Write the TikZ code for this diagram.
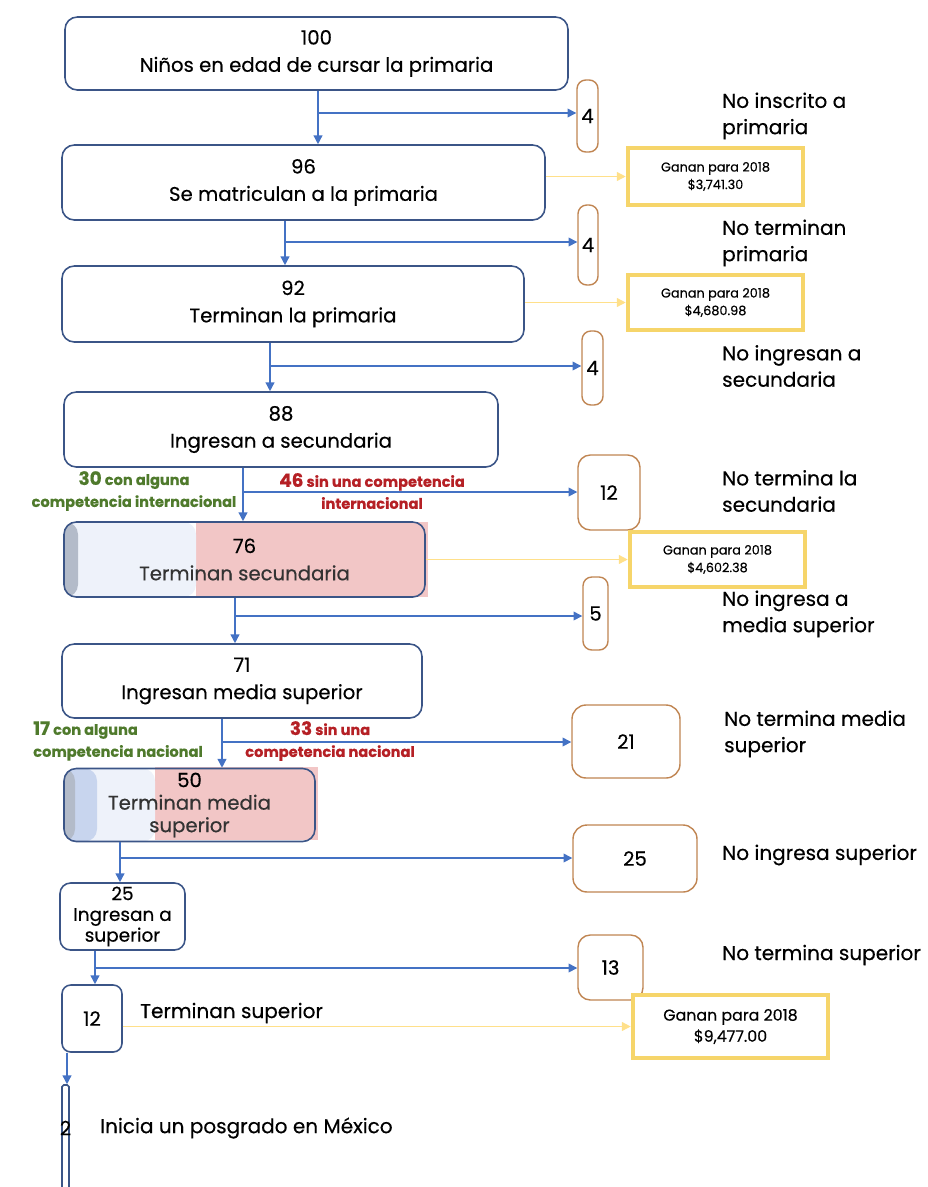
\documentclass[tikz,border=0pt]{standalone}
\usepackage{fontspec}
\setmainfont{Poppins}[RawFeature={embolden=0.4}]
\usepackage{tikz}
\usetikzlibrary{positioning,arrows.meta,calc}
\usepackage{xcolor}
\definecolor{stageblue}{HTML}{3B5587}
\definecolor{flowblue}{HTML}{4472C4}
\definecolor{dropbrown}{HTML}{C08552}
\definecolor{payyellow}{HTML}{F6D56A}
\definecolor{payline}{HTML}{FFE08A}
\definecolor{compgreen}{HTML}{4F7A2C}
\definecolor{compred}{HTML}{B52025}
\definecolor{pinkfill}{HTML}{F2C6C6}
\definecolor{paleblue}{HTML}{EEF2FA}
\definecolor{stripegrey}{HTML}{B3BBC9}
\definecolor{stripeblue}{HTML}{C8D5EE}
\newcommand{\pxu}{0.02cm}
\newcommand{\mainsize}{\fontsize{11.2}{15.5}\selectfont}
\newcommand{\sidesize}{\fontsize{11.4}{15}\selectfont}
\newcommand{\smallsize}{\fontsize{7.3}{10}\selectfont}
\newcommand{\compsize}{\fontsize{8.3}{12.5}\selectfont\bfseries}
\newcommand{\compnum}{\fontsize{10.5}{12.5}\selectfont\bfseries}

\begin{document}
\begin{tikzpicture}[x=\pxu, y=-\pxu,
    wh/.style 2 args={minimum width=#1*\pxu, minimum height=#2*\pxu},
    stage/.style={draw=stageblue, line width=0.9pt, rounded corners=7pt, fill=white, inner sep=0pt, align=center, font=\mainsize},
    dropbox/.style={draw=dropbrown, line width=0.8pt, rounded corners=5pt, fill=white, inner sep=0pt, font=\mainsize},
    paybox/.style={draw=payyellow, line width=2.6pt, fill=white, inner sep=0pt, align=center, font=\smallsize},
    flow/.style={draw=flowblue, line width=0.8pt, -{Triangle[length=5pt,width=5pt]}},
    payflow/.style={draw=payline, line width=0.8pt, -{Triangle[length=5pt,width=5pt]}},
    sidelabel/.style={anchor=west, align=left, font=\sidesize}]
        \useasboundingbox (0,0) rectangle (927,1187);

        % pink parts standing out of the two split boxes
        \fill[pinkfill] (196,522) rectangle (428,597);
        \fill[pinkfill] (155,767) rectangle (318,840);

        % stages of the school path
        \node[stage, wh={503}{73}] (n100) at (316.5,53.5) {100\\Niños en edad de cursar la primaria};
        \node[stage, wh={483}{75}] (n96) at (303.5,182.5) {96\\Se matriculan a la primaria};
        \node[stage, wh={462}{76}] (n92) at (293,304) {92\\Terminan la primaria};
        \node[stage, wh={434}{75}] (n88) at (281,429.5) {88\\Ingresan a secundaria};
        \node[stage, wh={361}{75}, fill=none, path picture={
                \fill[paleblue] (path picture bounding box.north west) rectangle ++(132,75);
                \fill[stripegrey] (path picture bounding box.north west) rectangle ++(14,75);
            }] (n76) at (244.5,559.5) {76\\\textcolor{black!80}{Terminan secundaria}};
        \node[stage, wh={360}{74}] (n71) at (242,681) {71\\Ingresan media superior};
        \node[stage, wh={251}{73}, fill=none, font=\fontsize{11.2}{12.8}\selectfont, path picture={
                \fill[paleblue] (path picture bounding box.north west) rectangle ++(91,73);
                \fill[stripeblue] (path picture bounding box.north west) rectangle ++(33,73);
                \fill[stripegrey] (path picture bounding box.north west) rectangle ++(11,73);
            }] (n50) at (189.5,805) {50\\\textcolor{black!80}{Terminan media}\\\textcolor{black!80}{superior}};
        \node[stage, wh={125}{67}, rounded corners=6pt, font=\fontsize{10.5}{11.8}\selectfont] (n25) at (122.5,916.5) {25\\Ingresan a\\superior};
        \node[stage, wh={60}{67}, rounded corners=5pt] (n12) at (92,1018.5) {12};
        \node[stage, wh={7}{120}, rounded corners=1pt] (n2) at (65.5,1145) {};
        \node[font=\mainsize] at (n2.center |- 0,1128) {2};

        % children who leave the path
        \node[dropbox, wh={21}{72}] (d1) at (587.5,116) {4};
        \node[dropbox, wh={20}{80}] (d2) at (588,245) {4};
        \node[dropbox, wh={21}{74}] (d3) at (592.5,368) {4};
        \node[dropbox, wh={62}{75}, rounded corners=7pt] (d4) at (609,492.5) {12};
        \node[dropbox, wh={25}{73}] (d5) at (595.5,613.5) {5};
        \node[dropbox, wh={108}{73}, rounded corners=8pt] (d6) at (626,741.5) {21};
        \node[dropbox, wh={124}{67}, rounded corners=8pt] (d7) at (635,858.5) {25};
        \node[dropbox, wh={65}{65}, rounded corners=7pt] (d8) at (610.5,967.5) {13};

        % income boxes
        \node[paybox, wh={175}{57}] (g1) at (715.5,176.5) {Ganan para 2018\\\$3,741.30};
        \node[paybox, wh={175}{55}] (g2) at (715.5,302.5) {Ganan para 2018\\\$4,680.98};
        \node[paybox, wh={175}{55}] (g3) at (717.5,559.5) {Ganan para 2018\\\$4,602.38};
        \node[paybox, wh={195}{63}, font=\fontsize{9}{12}\selectfont] (g4) at (730.5,1026.5) {Ganan para 2018\\\$9,477.00};

        % side labels
        \node[sidelabel] (l1) at (716,116) {No inscrito a\\primaria};
        \node[sidelabel] (l2) at (716,243) {No terminan\\primaria};
        \node[sidelabel] (l3) at (716,366) {No ingresan a\\secundaria};
        \node[sidelabel] (l4) at (716,491) {No termina la\\secundaria};
        \node[sidelabel] (l5) at (716,614) {No ingresa a\\media superior};
        \node[sidelabel] (l6) at (718,734) {No termina media\\superior};
        \node[sidelabel] (l7) at (716,855) {No ingresa superior};
        \node[sidelabel] (l8) at (716,955) {No termina superior};
        \node[sidelabel] (l9) at (134,1013) {Terminan superior};
        \node[sidelabel] (l10) at (94,1128) {Inicia un posgrado en México};

        % competence notes
        \node[align=center, text=compgreen, font=\compsize] (c30) at (134,491) {{\compnum 30} con alguna\\competencia internacional};
        \node[align=center, text=compred, font=\compsize] (c46) at (372,491) {{\compnum 46} sin una competencia\\internacional};
        \node[align=left, text=compgreen, font=\compsize] (c17) at (118,741) {{\compnum 17} con alguna\\competencia nacional};
        \node[align=center, text=compred, font=\compsize] (c33) at (330,741) {{\compnum 33} sin una\\competencia nacional};

        % main flow down the stages
        \foreach \a/\b/\x in {n100/n96/318, n96/n92/285, n92/n88/270, n88/n76/243, n76/n71/235, n71/n50/222, n50/n25/120, n25/n12/95, n12/n2/67} {
            \draw[flow] (\a.south -| \x,0) -- (\b.north -| \x,0);
        }

        % branches to the drop boxes
        \foreach \d/\x/\y in {d1/318/113, d2/285/242, d3/270/366, d4/243/492, d5/235/616, d6/222/742, d7/120/858, d8/95/968} {
            \coordinate (j\d) at (\x,\y);
            \draw[flow] (j\d) -- (\d.west |- j\d);
        }

        % income arrows
        \foreach \a/\g in {n96/g1, n92/g2, n76/g3, n12/g4} {
            \draw[payflow] (\a.east |- \g) -- (\g.west);
        }
    \end{tikzpicture}
\end{document}
